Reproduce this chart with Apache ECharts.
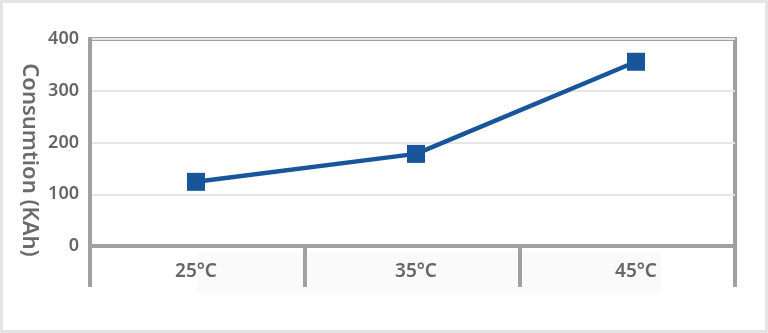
<!DOCTYPE html>
<html>
<head>
<meta charset="utf-8">
<script src="https://cdn.jsdelivr.net/npm/echarts@6/dist/echarts.min.js"></script>
<style>
html,body{margin:0;padding:0;background:#fff;}
#c{width:768px;height:333px;}
</style>
</head>
<body>
<div id="c"></div>
<script>
const categories = ['25°C', '35°C', '45°C'];
const consumption = [124, 178, 356];
const yTicks = [0, 100, 200, 300, 400];
const yTitle = 'Consumtion (KAh)';

const axisGray = '#a0a0a0';
const textGray = '#666666';
const font = 'Noto Sans';

const chart = echarts.init(document.getElementById('c'), null, {renderer: 'canvas'});
chart.setOption({
  backgroundColor: '#ffffff',
  animation: false,
  graphic: [
    {type: 'rect', shape: {x: 1.5, y: 1.5, width: 765, height: 330},
     style: {fill: 'none', stroke: '#e4e4e4', lineWidth: 3}, z: 0},
    {type: 'rect', shape: {x: 198, y: 252, width: 463, height: 41},
     style: {fill: '#fafafa'}, z: -1},
    {type: 'text', x: 29, y: 160, rotation: -Math.PI / 2,
     style: {text: yTitle, fill: '#6b6b6b', font: '600 22px "Noto Sans"',
             textAlign: 'center', textVerticalAlign: 'middle'}}
  ],
  grid: [
    {left: 90, right: 33, top: 39, bottom: 87, show: true, borderColor: axisGray, borderWidth: 4, backgroundColor: 'transparent'},
    {left: 86, right: 22, top: 39, bottom: 87}
  ],
  xAxis: [
    {type: 'category', gridIndex: 0, data: categories, boundaryGap: true,
     axisLine: {show: true, lineStyle: {color: axisGray, width: 4}},
     axisTick: {show: true, length: 41, interval: 0, lineStyle: {color: axisGray, width: 4}},
     axisLabel: {show: false}},
    {type: 'category', gridIndex: 1, data: categories, boundaryGap: true,
     axisLine: {show: false}, axisTick: {show: false},
     axisLabel: {show: true, color: textGray, fontFamily: font, fontSize: 19, fontWeight: 600, margin: 16}}
  ],
  yAxis: [
    {type: 'value', gridIndex: 0, min: yTicks[0], max: yTicks[yTicks.length - 1], interval: 100,
     axisLine: {show: true, lineStyle: {color: axisGray, width: 4}},
     axisTick: {show: false},
     splitLine: {show: true, lineStyle: {color: '#e6e6e6', width: 2}},
     axisLabel: {color: textGray, fontFamily: font, fontSize: 18, fontWeight: 600, margin: 11}},
    {type: 'value', gridIndex: 1, min: yTicks[0], max: yTicks[yTicks.length - 1], interval: 100,
     show: false, splitLine: {show: false}}
  ],
  series: [{
    type: 'line', xAxisIndex: 1, yAxisIndex: 1, data: consumption,
    symbol: 'rect', symbolSize: 18,
    lineStyle: {color: '#18559b', width: 4.5},
    itemStyle: {color: '#18559b'},
    z: 5
  }]
});
</script>
</body>
</html>
